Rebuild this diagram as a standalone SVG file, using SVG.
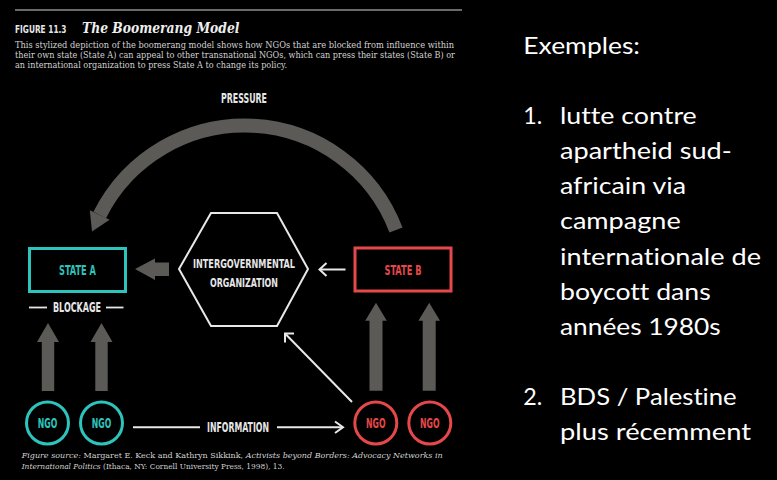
<svg xmlns="http://www.w3.org/2000/svg" width="777" height="480" viewBox="0 0 777 480">
<defs>
<style>
.cond{font-family:"DejaVu Sans Condensed","DejaVu Sans",sans-serif;font-stretch:condensed;font-weight:bold;}
.lbl{fill:#e6e6e6;font-size:13.5px;}
.lbl12{fill:#e6e6e6;font-size:12.5px;}
.cap{font-family:"DejaVu Serif","Liberation Serif",serif;fill:#d2d2d2;font-size:8.8px;}
.src{font-family:"DejaVu Serif","Liberation Serif",serif;fill:#d2d2d2;font-size:8.2px;}
.slide{font-family:Lato,"Open Sans",sans-serif;fill:#ffffff;font-size:24px;font-variant-ligatures:none;}
.gray{fill:#5b5a56;}
.wline{stroke:#e8e8e8;stroke-width:2;fill:none;}
.teal{stroke:#2cc4bc;stroke-width:3;fill:none;}
.red{stroke:#e5484a;stroke-width:3;fill:none;}
</style>
</defs>
<rect x="0" y="0" width="777" height="480" fill="#000"/>
<!-- header -->
<g id="header">
<line x1="15" y1="10" x2="462" y2="10" stroke="#6a6a6a" stroke-width="1.8"/>
<text x="15" y="32.5" class="cond" fill="#e6e6e6" font-size="10.5" textLength="51.5" lengthAdjust="spacingAndGlyphs">FIGURE 11.3</text>
<text x="82" y="32.7" font-family="'DejaVu Serif','Liberation Serif',serif" font-weight="bold" font-style="italic" font-size="15" fill="#eeeeee" textLength="157.5" lengthAdjust="spacingAndGlyphs">The Boomerang Model</text>
<text x="15" y="48.3" class="cap" textLength="439" lengthAdjust="spacingAndGlyphs">This stylized depiction of the boomerang model shows how NGOs that are blocked from influence within</text>
<text x="15" y="58.3" class="cap" textLength="440" lengthAdjust="spacingAndGlyphs">their own state (State A) can appeal to other transnational NGOs, which can press their states (State B) or</text>
<text x="15" y="68.3" class="cap" textLength="272" lengthAdjust="spacingAndGlyphs">an international organization to press State A to change its policy.</text>
</g>
<!-- connectors -->
<g id="connectors">
<path d="M396,230 A162,162 0 0 0 99.7,215" stroke="#5b5a56" stroke-width="14" fill="none"/>
<polygon class="gray" points="89.8,210.3 109.6,219.7 92,231.5"/>
<text x="244" y="103" class="cond lbl" text-anchor="middle" textLength="46" lengthAdjust="spacingAndGlyphs">PRESSURE</text>
<polygon class="gray" points="135,269 155,258.5 155,262.5 169,262.5 169,276 155,276 155,280"/>
<line class="wline" x1="345.5" y1="269.5" x2="319.5" y2="269.5"/>
<polyline class="wline" points="326.5,263 319.5,269.5 326.5,276"/>
<polygon class="gray" points="48,323 37,342 41.8,342 41.8,391 54.2,391 54.2,342 59,342"/>
<polygon class="gray" points="101.5,323 90.5,342 95.3,342 95.3,391 107.7,391 107.7,342 112.5,342"/>
<polygon class="gray" points="376,302.7 365.2,320.7 369.5,320.7 369.5,390.7 382.5,390.7 382.5,320.7 386.8,320.7"/>
<polygon class="gray" points="429.2,302.7 418.4,320.7 422.7,320.7 422.7,390.7 435.7,390.7 435.7,320.7 440,320.7"/>
<line class="wline" x1="352" y1="402" x2="285.5" y2="334"/>
<polyline class="wline" points="294,333.5 285,333.5 285,342.5"/>
<line class="wline" x1="133" y1="427.3" x2="200" y2="427.3"/>
<line class="wline" x1="277" y1="427.3" x2="342.5" y2="427.3"/>
<polyline class="wline" points="335,421.5 343,427.3 335,433"/>
<text x="238" y="432" class="cond lbl" text-anchor="middle" textLength="62" lengthAdjust="spacingAndGlyphs">INFORMATION</text>
</g>
<!-- nodes -->
<g id="stateA">
<rect class="teal" x="29.5" y="248.5" width="96" height="43"/>
<text x="77.5" y="274.5" class="cond" fill="#2cc4bc" font-size="14" text-anchor="middle" textLength="37" lengthAdjust="spacingAndGlyphs">STATE A</text>
</g>
<g id="blockage">
<line x1="29" y1="307.5" x2="47" y2="307.5" stroke="#e6e6e6" stroke-width="1.8"/>
<line x1="106" y1="307.5" x2="123.5" y2="307.5" stroke="#e6e6e6" stroke-width="1.8"/>
<text x="77" y="312.3" class="cond lbl" text-anchor="middle" textLength="48" lengthAdjust="spacingAndGlyphs">BLOCKAGE</text>
</g>
<g id="igo">
<polygon class="wline" points="179,269 211,213 277,213 308,269 277,326 211,326"/>
<text x="244" y="268.3" class="cond lbl12" text-anchor="middle" textLength="102" lengthAdjust="spacingAndGlyphs">INTERGOVERNMENTAL</text>
<text x="244" y="287.3" class="cond lbl12" text-anchor="middle" textLength="68" lengthAdjust="spacingAndGlyphs">ORGANIZATION</text>
</g>
<g id="stateB">
<rect class="red" x="355" y="248" width="96" height="43"/>
<text x="403" y="274.5" class="cond" fill="#e5484a" font-size="14" text-anchor="middle" textLength="37" lengthAdjust="spacingAndGlyphs">STATE B</text>
</g>
<g id="ngoA1">
<circle class="teal" cx="47.5" cy="423" r="21"/>
<text x="47.5" y="428" class="cond" fill="#2cc4bc" font-size="13.5" text-anchor="middle" textLength="19.5" lengthAdjust="spacingAndGlyphs">NGO</text>
</g>
<g id="ngoA2">
<circle class="teal" cx="101.5" cy="423" r="21"/>
<text x="101.5" y="428" class="cond" fill="#2cc4bc" font-size="13.5" text-anchor="middle" textLength="19.5" lengthAdjust="spacingAndGlyphs">NGO</text>
</g>
<g id="ngoB1">
<circle class="red" cx="375.8" cy="423" r="21"/>
<text x="375.8" y="428" class="cond" fill="#e5484a" font-size="13.5" text-anchor="middle" textLength="19.5" lengthAdjust="spacingAndGlyphs">NGO</text>
</g>
<g id="ngoB2">
<circle class="red" cx="429.8" cy="423" r="21"/>
<text x="429.8" y="428" class="cond" fill="#e5484a" font-size="13.5" text-anchor="middle" textLength="19.5" lengthAdjust="spacingAndGlyphs">NGO</text>
</g>
<!-- source -->
<g id="source">
<text x="21.7" y="457.8" class="src" textLength="421" lengthAdjust="spacingAndGlyphs"><tspan font-style="italic">Figure source:</tspan> Margaret E. Keck and Kathryn Sikkink, <tspan font-style="italic">Activists beyond Borders: Advocacy Networks in</tspan></text>
<text x="21.7" y="469.4" class="src" textLength="263" lengthAdjust="spacingAndGlyphs"><tspan font-style="italic">International Politics</tspan> (Ithaca, NY: Cornell University Press, 1998), 13.</text>
</g>
<!-- slide text -->
<g id="slideText">
<text x="523.3" y="54.3" class="slide" textLength="116.7" lengthAdjust="spacingAndGlyphs">Exemples:</text>
<text x="523.3" y="124" class="slide" textLength="19" lengthAdjust="spacingAndGlyphs">1.</text>
<text x="560" y="124" class="slide" textLength="136.7" lengthAdjust="spacingAndGlyphs">lutte contre</text>
<text x="560" y="159.2" class="slide" textLength="171.7" lengthAdjust="spacingAndGlyphs">apartheid sud-</text>
<text x="560" y="194.3" class="slide" textLength="126" lengthAdjust="spacingAndGlyphs">africain via</text>
<text x="560" y="229.4" class="slide" textLength="120.7" lengthAdjust="spacingAndGlyphs">campagne</text>
<text x="560" y="264.5" class="slide" textLength="201" lengthAdjust="spacingAndGlyphs">internationale de</text>
<text x="560" y="299.6" class="slide" textLength="150.7" lengthAdjust="spacingAndGlyphs">boycott dans</text>
<text x="560" y="334.7" class="slide" textLength="160.7" lengthAdjust="spacingAndGlyphs">années 1980s</text>
<text x="523.3" y="404.9" class="slide" textLength="19" lengthAdjust="spacingAndGlyphs">2.</text>
<text x="560" y="404.9" class="slide" textLength="176.7" lengthAdjust="spacingAndGlyphs">BDS / Palestine</text>
<text x="560" y="440" class="slide" textLength="191" lengthAdjust="spacingAndGlyphs">plus récemment</text>
</g>
</svg>
